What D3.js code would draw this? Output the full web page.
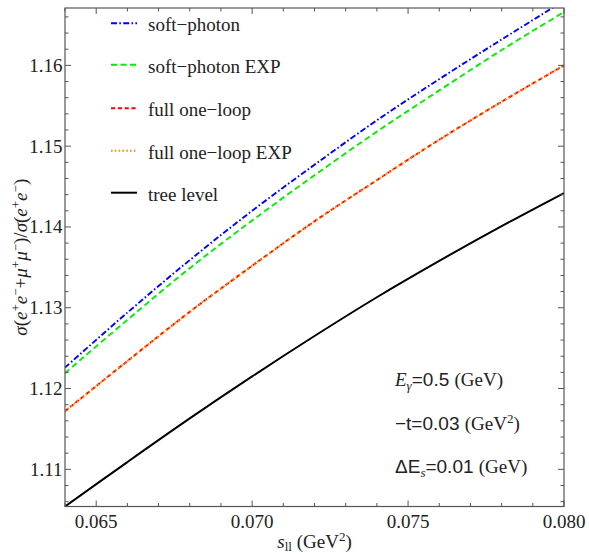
<!DOCTYPE html>
<html>
<head>
<meta charset="utf-8">
<script src="https://cdn.jsdelivr.net/npm/d3@7"></script>
<style>
  html, body { margin: 0; padding: 0; background: #fff; }
  svg { display: block; }
</style>
</head>
<body>
<div id="chart"></div>
<script>
// s_ll grid (GeV^2) and the ratio sigma(e+e- + mu+mu-)/sigma(e+e-) for each approximation
const sValues        = [0.064, 0.066, 0.068, 0.070, 0.072, 0.074, 0.076, 0.078, 0.080];
const softPhoton     = [1.1226, 1.1294, 1.1359, 1.1420, 1.1477, 1.1532, 1.1583, 1.1632, 1.1680];
const softPhotonExp  = [1.1219, 1.1285, 1.1349, 1.1408, 1.1464, 1.1518, 1.1569, 1.1619, 1.1666];
const fullOneLoop    = [1.1172, 1.1234, 1.1295, 1.1352, 1.1407, 1.1458, 1.1508, 1.1555, 1.1600];
const fullOneLoopExp = [1.1172, 1.1234, 1.1295, 1.1352, 1.1407, 1.1458, 1.1508, 1.1555, 1.1600];
const treeLevel      = [1.1054, 1.1109, 1.1163, 1.1215, 1.1265, 1.1313, 1.1358, 1.1401, 1.1442];

const xTicks = [0.065, 0.070, 0.075, 0.080];
const xTickLabels = ["0.065", "0.070", "0.075", "0.080"];
const yTicks = [1.11, 1.12, 1.13, 1.14, 1.15, 1.16];
const yTickLabels = ["1.11", "1.12", "1.13", "1.14", "1.15", "1.16"];

const seriesNames = ["soft\u2212photon", "soft\u2212photon EXP", "full one\u2212loop", "full one\u2212loop EXP", "tree level"];
const seriesData = [softPhoton, softPhotonExp, fullOneLoop, fullOneLoopExp, treeLevel];

const styles = [
  { color: "#0000ff", dash: "6,2.3,1.6,2.3", width: 1.9 },
  { color: "#00ee00", dash: "6,3.5", width: 1.9 },
  { color: "#ff0000", dash: "4.2,2.6", width: 1.9 },
  { color: "#ff8c00", dash: "1.6,2.2", width: 1.9 },
  { color: "#000000", dash: null, width: 2 }
];

const SERIF = "'Liberation Serif', 'DejaVu Serif', serif";
const SANS = "'Liberation Sans', 'DejaVu Sans', sans-serif";

const W = 589, H = 555;
const plot = { left: 65, right: 564, top: 8, bottom: 506.5 };

const svg = d3.select("#chart").append("svg")
  .attr("width", W).attr("height", H);

const x = d3.scaleLinear().domain([0.064, 0.080]).range([plot.left, plot.right]);
const y = d3.scaleLinear().domain([1.1054, 1.1671]).range([plot.bottom, plot.top]);

svg.append("clipPath").attr("id", "plotClip")
  .append("rect")
  .attr("x", plot.left).attr("y", plot.top)
  .attr("width", plot.right - plot.left).attr("height", plot.bottom - plot.top);

// curves
const line = d3.line()
  .x((d, i) => x(sValues[i]))
  .y(d => y(d))
  .curve(d3.curveCatmullRom.alpha(0.5));

const curves = svg.append("g").attr("clip-path", "url(#plotClip)");
seriesData.forEach((vals, k) => {
  curves.append("path")
    .attr("d", line(vals))
    .attr("fill", "none")
    .attr("stroke", styles[k].color)
    .attr("stroke-width", styles[k].width)
    .attr("stroke-dasharray", styles[k].dash);
});

// frame with inward ticks on every side
const frameColor = "#555";
const majorLen = 6, minorLen = 3.5;
const tickG = svg.append("g").attr("stroke", frameColor).attr("stroke-width", 1);

const xMinor = d3.range(64, 81).map(v => v / 1000);
xMinor.forEach(v => {
  const isMajor = xTicks.some(t => Math.abs(t - v) < 1e-9);
  const len = isMajor ? majorLen : minorLen;
  const px = x(v);
  tickG.append("line").attr("x1", px).attr("x2", px).attr("y1", plot.bottom).attr("y2", plot.bottom - len);
  tickG.append("line").attr("x1", px).attr("x2", px).attr("y1", plot.top).attr("y2", plot.top + len);
});
const yMinor = d3.range(553, 584).map(v => v / 500);
yMinor.forEach(v => {
  if (v < 1.1054 || v > 1.1671) return;
  const isMajor = yTicks.some(t => Math.abs(t - v) < 1e-9);
  const len = isMajor ? majorLen : minorLen;
  const py = y(v);
  tickG.append("line").attr("x1", plot.left).attr("x2", plot.left + len).attr("y1", py).attr("y2", py);
  tickG.append("line").attr("x1", plot.right).attr("x2", plot.right - len).attr("y1", py).attr("y2", py);
});

svg.append("rect")
  .attr("x", plot.left).attr("y", plot.top)
  .attr("width", plot.right - plot.left).attr("height", plot.bottom - plot.top)
  .attr("fill", "none").attr("stroke", frameColor).attr("stroke-width", 1.2);

// tick labels
const fs = 19;
svg.append("g").selectAll("text").data(xTicks).join("text")
  .attr("font-family", SERIF)
  .attr("x", d => x(d)).attr("y", 528)
  .attr("text-anchor", "middle").attr("font-size", fs).attr("fill", "#222")
  .text((d, i) => xTickLabels[i]);

svg.append("g").selectAll("text").data(yTicks).join("text")
  .attr("font-family", SERIF)
  .attr("x", plot.left - 2.5).attr("y", d => y(d) + 6.5)
  .attr("text-anchor", "end").attr("font-size", fs).attr("fill", "#222")
  .text((d, i) => yTickLabels[i]);

// x axis title: s_ll (GeV^2)
const xt = svg.append("text").attr("font-family", SERIF)
  .attr("x", (plot.left + plot.right) / 2).attr("y", 547.5)
  .attr("text-anchor", "middle").attr("font-size", fs).attr("fill", "#222");
xt.append("tspan").attr("font-style", "italic").text("s");
xt.append("tspan").attr("font-size", 13).attr("dy", 3.5).text("ll");
xt.append("tspan").attr("dy", -3.5).text(" (GeV");
xt.append("tspan").attr("font-size", 13).attr("dy", -7).text("2");
xt.append("tspan").attr("dy", 7).text(")");

// y axis title: sigma(e+e- + mu+mu-)/sigma(e+e-)
const yt = svg.append("text").attr("font-family", SERIF)
  .attr("transform", `translate(27,${(plot.top + plot.bottom) / 2}) rotate(-90)`)
  .attr("text-anchor", "middle").attr("font-size", fs).attr("fill", "#222");
function sup(t) { yt.append("tspan").attr("font-size", 13).attr("dy", -7).text(t); }
function back(t) { yt.append("tspan").attr("dy", 7).text(t); }
function it(t) { yt.append("tspan").attr("font-style", "italic").text(t); }
it("\u03c3"); yt.append("tspan").text("(");
it("e"); sup("+"); yt.append("tspan").attr("dy", 7).attr("font-style", "italic").text("e"); sup("\u2212");
back("+");
it("\u03bc"); sup("+"); yt.append("tspan").attr("dy", 7).attr("font-style", "italic").text("\u03bc"); sup("\u2212");
back(")/");
it("\u03c3"); yt.append("tspan").text("(");
it("e"); sup("+"); yt.append("tspan").attr("dy", 7).attr("font-style", "italic").text("e"); sup("\u2212");
back(")");

// legend
const legendY = [23.3, 64.8, 108.3, 150.7, 192.7];
const lg = svg.append("g");
seriesNames.forEach((name, k) => {
  lg.append("line")
    .attr("x1", 111).attr("x2", 137)
    .attr("y1", legendY[k]).attr("y2", legendY[k])
    .attr("stroke", styles[k].color)
    .attr("stroke-width", styles[k].width)
    .attr("stroke-dasharray", styles[k].dash);
  lg.append("text").attr("font-family", SERIF)
    .attr("x", 148).attr("y", legendY[k] + 7.8)
    .attr("font-size", fs).attr("fill", "#222")
    .text(name);
});

// kinematic parameters
const ann = svg.append("g").attr("font-size", fs).attr("fill", "#222");
const a1 = ann.append("text").attr("x", 395).attr("y", 386);
a1.append("tspan").attr("font-family", SERIF).attr("font-style", "italic").text("E");
a1.append("tspan").attr("font-family", SERIF).attr("font-style", "italic").attr("font-size", 13).attr("dy", 4).text("\u03b3");
a1.append("tspan").attr("font-family", SANS).attr("dy", -4).text("=0.5 ");
a1.append("tspan").attr("font-family", SERIF).text("(GeV)");

const a2 = ann.append("text").attr("x", 395).attr("y", 430);
a2.append("tspan").attr("font-family", SANS).text("\u2212t=0.03 ");
a2.append("tspan").attr("font-family", SERIF).text("(GeV");
a2.append("tspan").attr("font-family", SERIF).attr("font-size", 13).attr("dy", -7).text("2");
a2.append("tspan").attr("font-family", SERIF).attr("dy", 7).text(")");

const a3 = ann.append("text").attr("x", 395).attr("y", 473);
a3.append("tspan").attr("font-family", SANS).text("\u0394E");
a3.append("tspan").attr("font-family", SERIF).attr("font-style", "italic").attr("font-size", 13).attr("dy", 4).text("s");
a3.append("tspan").attr("font-family", SANS).attr("dy", -4).text("=0.01 ");
a3.append("tspan").attr("font-family", SERIF).text("(GeV)");
</script>
</body>
</html>
